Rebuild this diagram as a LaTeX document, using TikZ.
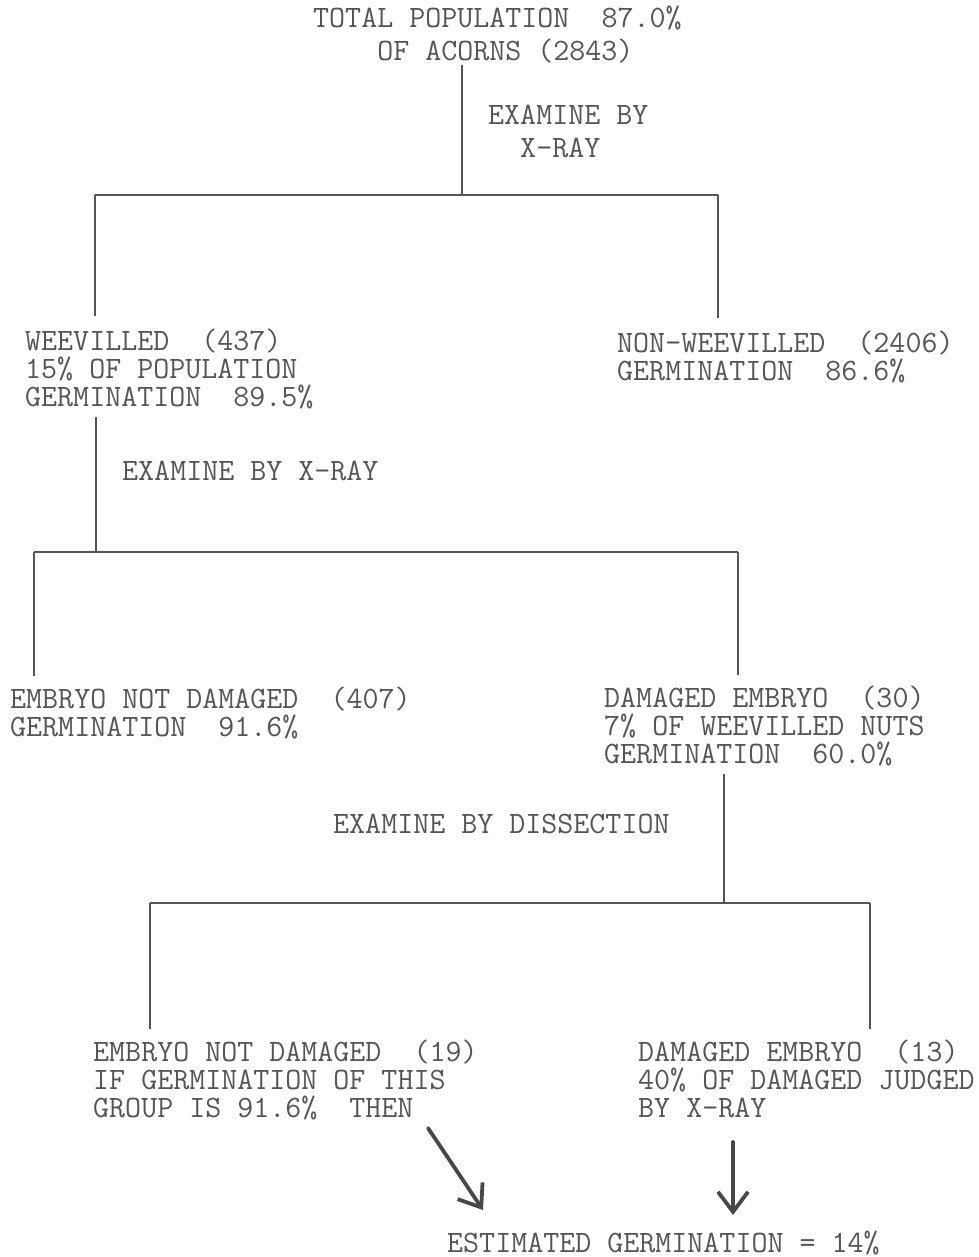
\documentclass[tikz,border=0pt]{standalone}
\usepackage{fontspec}
\usetikzlibrary{arrows.meta}
\definecolor{typeink}{HTML}{555555}
\definecolor{penink}{HTML}{474747}

\begin{document}
\begin{tikzpicture}[x=1pt, y=-1pt,
  every node/.style={inner sep=0pt, text=typeink, align=left, anchor=base west,
    font=\ttfamily\fontsize{31.1}{28}\selectfont},
  wide/.style={font=\ttfamily\fontsize{31.1}{33}\selectfont},
  tree/.style={draw=typeink, line width=1.1pt},
  pen/.style={draw=penink, line width=3.8pt, line cap=round,
    -{Straight Barb[length=20pt, width=30pt, line width=3.8pt]}}]
\useasboundingbox (0,0) rectangle (978,1257);

\node[wide] (total) at (313,61)
  {TOTAL POPULATION~~87.0\%\\\phantom{TOTA}OF ACORNS (2843)};
\node[wide] (xray1) at (488,158) {EXAMINE BY\\\phantom{EX}X-RAY};
\node (weev) at (25,406)
  {WEEVILLED~~(437)\\15\% OF POPULATION\\GERMINATION~~89.5\%};
\node (nonweev) at (617,380) {NON-WEEVILLED~~(2406)\\GERMINATION~~86.6\%};
\node (xray2) at (122,480) {EXAMINE BY X-RAY};
\node (intact) at (10,736) {EMBRYO NOT DAMAGED~~(407)\\GERMINATION~~91.6\%};
\node (damaged) at (604,763)
  {DAMAGED EMBRYO~~(30)\\7\% OF WEEVILLED NUTS\\GERMINATION~~60.0\%};
\node (dissect) at (333,833) {EXAMINE BY DISSECTION};
\node (intact2) at (93,1117)
  {EMBRYO NOT DAMAGED~~(19)\\IF GERMINATION OF THIS\\GROUP IS 91.6\%~~THEN};
\node (damaged2) at (638,1117)
  {DAMAGED EMBRYO~~(13)\\40\% OF DAMAGED JUDGED\\BY X-RAY};
\node (estimate) at (447,1252) {ESTIMATED GERMINATION = 14\%};

\coordinate (fork1) at (462,195);
\coordinate (bar1l) at (95,195);
\coordinate (bar1r) at (718,195);
\coordinate (fork2) at (96,552);
\coordinate (bar2l) at (34,552);
\coordinate (bar2r) at (738,552);
\coordinate (fork3) at (724,903);
\coordinate (bar3l) at (150,903);
\coordinate (bar3r) at (870,903);

\draw[tree] ([yshift=-1pt]total.south -| fork1) -- (fork1);
\draw[tree] (bar1l) -- (bar1r);
\draw[tree] (bar1l) -- ([yshift=12pt]weev.north -| bar1l);
\draw[tree] (bar1r) -- ([yshift=12pt]nonweev.north -| bar1r);

\draw[tree] ([yshift=-8pt]weev.south -| fork2) -- (fork2);
\draw[tree] (bar2l) -- (bar2r);
\draw[tree] (bar2l) -- ([yshift=10pt]intact.north -| bar2l);
\draw[tree] (bar2r) -- ([yshift=10pt]damaged.north -| bar2r);

\draw[tree] ([yshift=-8pt]damaged.south -| fork3) -- (fork3);
\draw[tree] (bar3l) -- (bar3r);
\draw[tree] (bar3l) -- ([yshift=10pt]intact2.north -| bar3l);
\draw[tree] (bar3r) -- ([yshift=10pt]damaged2.north -| bar3r);

\draw[pen] ([xshift=335pt,yshift=-11pt]intact2.base west) -- ([xshift=36pt,yshift=42pt]estimate.base west);
\draw[pen] ([xshift=95pt,yshift=-25pt]damaged2.base west) -- ([xshift=286pt,yshift=37pt]estimate.base west);
\end{tikzpicture}
\end{document}
